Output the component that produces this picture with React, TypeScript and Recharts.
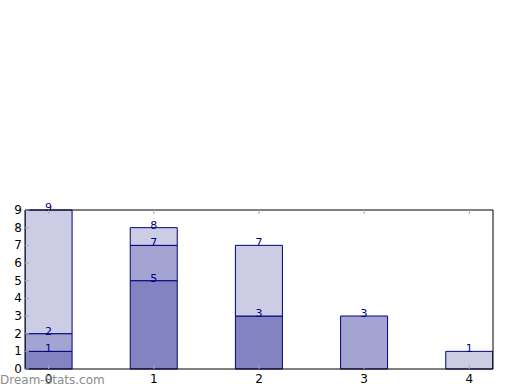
import { BarChart, Bar, XAxis, YAxis, LabelList } from "recharts";

const categories = [0, 1, 2, 3, 4];
const bottomSeries = [1, 5, 3, 0, 0];
const middleSeries = [1, 2, 0, 3, 0];
const topSeries = [7, 1, 4, 0, 1];
const yTicks = [0, 1, 2, 3, 4, 5, 6, 7, 8, 9];

const data = categories.map((c, i) => ({
  cat: c,
  a: bottomSeries[i],
  b: middleSeries[i],
  c: topSeries[i],
  // running totals shown above each segment
  t1: bottomSeries[i],
  t2: bottomSeries[i] + middleSeries[i],
  t3: bottomSeries[i] + middleSeries[i] + topSeries[i],
}));

const FONT = "DejaVu Sans, sans-serif";
const TICK = "#aaaaaa";

const SegLabel = (props: any) => {
  const { x, y, width, value } = props;
  if (!value) return null;
  return (
    <text x={x + width / 2} y={y + 1} textAnchor="middle" fill="#000080" fontSize={11} fontFamily={FONT}>
      {value}
    </text>
  );
};

const BottomTick = ({ x, y, payload }: any) => (
  <g>
    <line x1={x} x2={x} y1={y} y2={y - 4} stroke={TICK} />
    <text x={x} y={y + 14} textAnchor="middle" fontSize={12} fontFamily={FONT} fill="#000">
      {payload.value}
    </text>
  </g>
);

const TopTick = ({ x, y }: any) => <line x1={x} x2={x} y1={y} y2={y + 4} stroke={TICK} />;

const LeftTick = ({ x, y, payload }: any) => (
  <g>
    <line x1={x} x2={x + 4} y1={y} y2={y} stroke={TICK} />
    <text x={x - 3} y={y + 4} textAnchor="end" fontSize={12} fontFamily={FONT} fill="#000">
      {payload.value}
    </text>
  </g>
);

const RightTick = ({ x, y }: any) => <line x1={x} x2={x - 4} y1={y} y2={y} stroke={TICK} />;

const App = () => {
  return (
    <div style={{ position: "absolute", left: 0, top: 0, width: 520, height: 390, background: "#fff" }}>
      <BarChart width={520} height={390} data={data} margin={{ top: 209, right: 26, bottom: 0, left: 0 }}>
        <Bar dataKey="a" stackId="s" fill="#8383c2" stroke="#000080" barSize={47} isAnimationActive={false}>
          <LabelList dataKey="t1" content={SegLabel} />
        </Bar>
        <Bar dataKey="b" stackId="s" fill="#a4a4d2" stroke="#000080" barSize={47} isAnimationActive={false}>
          <LabelList dataKey="t2" content={SegLabel} />
        </Bar>
        <Bar dataKey="c" stackId="s" fill="#cccce5" stroke="#000080" barSize={47} isAnimationActive={false}>
          <LabelList dataKey="t3" content={SegLabel} />
        </Bar>
        <XAxis
          dataKey="cat"
          type="number"
          domain={[-0.225, 4.225]}
          ticks={categories}
          allowDataOverflow
          height={21}
          tickSize={0}
          tickMargin={0}
          tickLine={false}
          axisLine={{ stroke: "#000" }}
          tick={BottomTick}
          interval={0}
        />
        <XAxis
          xAxisId="top"
          orientation="top"
          dataKey="cat"
          type="number"
          domain={[-0.225, 4.225]}
          ticks={categories}
          allowDataOverflow
          height={1}
          tickSize={0}
          tickMargin={0}
          tickLine={false}
          axisLine={{ stroke: "#000" }}
          tick={TopTick}
          interval={0}
        />
        <YAxis
          domain={[0, 9]}
          ticks={yTicks}
          width={25}
          tickSize={0}
          tickMargin={0}
          tickLine={false}
          axisLine={{ stroke: "#000" }}
          tick={LeftTick}
          interval={0}
        />
        <YAxis
          yAxisId="right"
          orientation="right"
          domain={[0, 9]}
          ticks={yTicks}
          width={1}
          tickSize={0}
          tickMargin={0}
          tickLine={false}
          axisLine={{ stroke: "#000" }}
          tick={RightTick}
          interval={0}
        />
      </BarChart>
      <div
        style={{
          position: "absolute",
          left: 0,
          top: 372,
          fontFamily: FONT,
          fontSize: 12,
          lineHeight: "16px",
          color: "#8c8c8c",
          whiteSpace: "nowrap",
        }}
      >
        Dream-Stats.com
      </div>
    </div>
  );
};

export default App;
